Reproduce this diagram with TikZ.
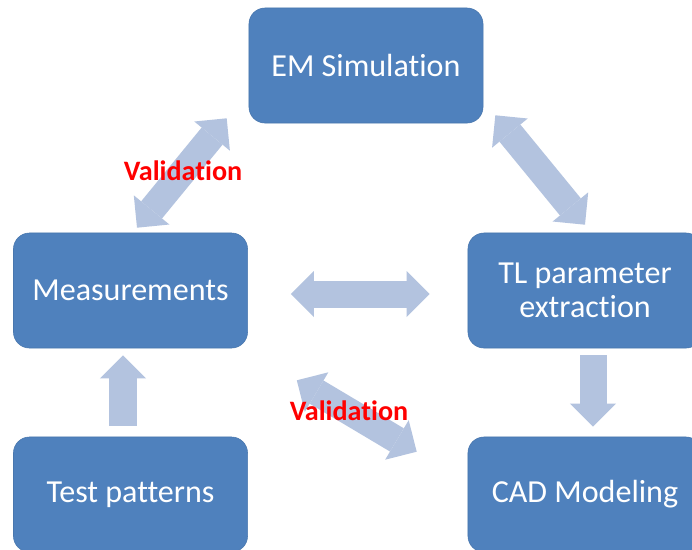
\documentclass[tikz,border=0pt]{standalone}
\usepackage{fontspec}
\setmainfont{Carlito}[Ligatures={NoCommon,NoContextual}]
\usepackage{xcolor}
\usetikzlibrary{positioning, arrows.meta, calc}
\definecolor{boxblue}{RGB}{79,129,189}
\definecolor{arrowblue}{RGB}{179,195,223}
\definecolor{valred}{RGB}{255,0,0}

\begin{document}
\begin{tikzpicture}[x=0.025cm, y=-0.025cm,
    stagebox/.style={rectangle, rounded corners=0.4cm, fill=boxblue, draw=boxblue!92!black, line width=0.4pt,
      minimum width=5.85cm, minimum height=2.875cm, align=center, text=white,
      font=\fontsize{22.8}{24.2}\selectfont},
    blockarr/.style={draw=arrowblue, line width=0.675cm,
      >={Triangle[length=0.575cm, width=1.15cm, line width=0pt]}},
    vallabel/.style={text=valred, font=\fontsize{20}{24}\selectfont\bfseries}]
    \clip (0,0) rectangle (692,549);
    \fill[white] (0,0) rectangle (692,549);

    % Boxes
    \node[stagebox] (em) at (366,65.5) {EM Simulation};
    \node[stagebox] (meas) at (130.5,290.5) {Measurements};
    \node[stagebox] (tl) at (585,290.5) {TL parameter\\extraction};
    \node[stagebox] (test) at (130.5,494.5) {Test patterns};
    \node[stagebox] (cad) at (585,494.5) {CAD Modeling};

    % Block arrows
    \draw[blockarr, <->] ($(em.south west)+(-22,-5)$) -- ($(meas.north)+(6.5,-5)$);
    \draw[blockarr, <->] ($(em.south east)+(12,-8)$) -- ($(tl.north)+(0,-8)$);
    \draw[blockarr, <->] ($(meas.east)+(43,3.5)$) -- ($(tl.west)+(-38,3.5)$);
    \draw[blockarr, <->] ($(meas.south east)+(49,32)$) -- ($(cad.north west)+(-51,15)$);
    \draw[blockarr, ->] ($(test.north)+(-7.5,-11)$) -- ($(meas.south)+(-7.5,7)$);
    \draw[blockarr, ->] ($(tl.south)+(8,7)$) -- ($(cad.north)+(8,-10)$);

    % Labels
    \node[vallabel] (val1) at (183,171) {Validation};
    \node[vallabel] (val2) at (349,411) {Validation};
\end{tikzpicture}
\end{document}
